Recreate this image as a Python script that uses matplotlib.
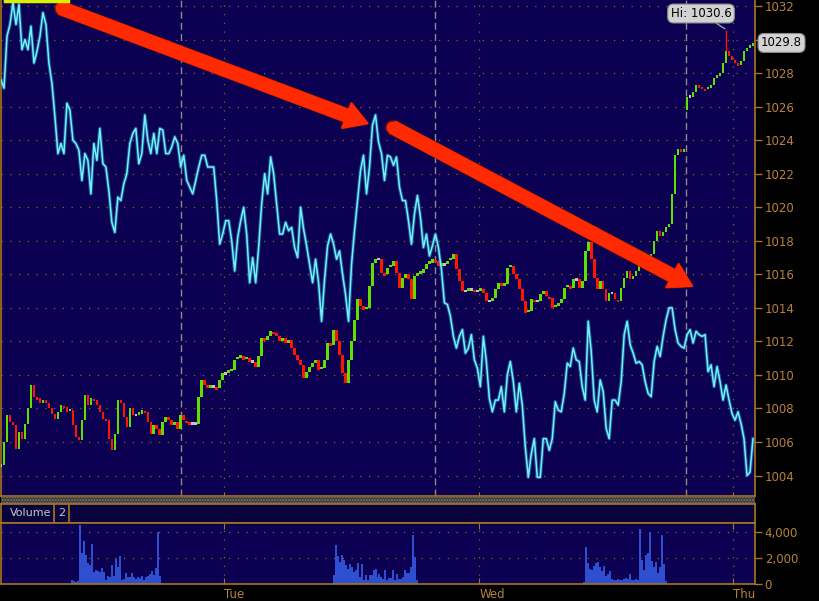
import matplotlib
matplotlib.use("Agg")
import matplotlib.pyplot as plt
import numpy as np
from matplotlib import patheffects as pe
from matplotlib.patches import FancyArrowPatch
from matplotlib.transforms import blended_transform_factory

# ---------------- data ----------------
closes = [
    1004.6, 1006.0, 1007.6, 1007.2, 1007.0, 1005.6, 1006.6, 1006.2, 1007.1, 1008.0,
    1009.4, 1008.7, 1008.6, 1008.3, 1008.5, 1008.3, 1008.0, 1007.7, 1007.4, 1007.8,
    1008.2, 1008.1, 1007.8, 1007.9, 1007.0, 1006.3, 1006.1, 1007.3, 1008.8, 1008.2,
    1008.6, 1008.5, 1008.2, 1007.8, 1007.4, 1007.3, 1006.2, 1005.5, 1006.5, 1008.5,
    1008.3, 1007.5, 1006.9, 1008.0, 1007.6, 1007.6, 1007.7, 1007.9, 1007.8, 1007.2,
    1006.5, 1007.0, 1006.8, 1006.4, 1007.2, 1007.5, 1007.3, 1007.0, 1007.2, 1006.8,
    1007.6, 1007.3, 1007.2, 1007.1,
    1007.1, 1007.1, 1008.7, 1009.7, 1009.4, 1009.2, 1009.3, 1009.3, 1009.2, 1009.7,
    1010.1, 1010.1, 1010.2, 1010.3, 1010.9, 1011.0, 1011.1, 1010.9, 1011.0, 1010.8,
    1010.8, 1010.5, 1011.1, 1012.2, 1012.1, 1012.3, 1012.6, 1012.5, 1012.3, 1012.0,
    1012.2, 1011.9, 1012.1, 1011.6, 1011.2, 1010.9, 1010.6, 1009.8, 1010.2, 1010.5,
    1010.7, 1010.9, 1010.3, 1010.4, 1010.9, 1011.9, 1011.8, 1012.7, 1012.0, 1011.2,
    1010.1, 1009.5, 1010.9, 1012.0, 1013.3, 1014.5, 1014.1, 1013.9, 1014.0, 1015.3,
    1016.7, 1016.9, 1016.9,
    1016.1, 1016.0, 1016.4, 1016.5, 1016.8, 1016.1, 1015.2, 1015.8, 1016.0, 1015.7,
    1014.5, 1015.9, 1016.0, 1016.1, 1016.3, 1016.6, 1016.7, 1016.9, 1016.8, 1016.5,
    1016.6, 1016.6, 1016.8, 1016.9, 1017.2, 1016.3, 1015.6, 1015.0, 1015.0, 1015.1,
    1015.1, 1015.0, 1015.0, 1015.1, 1014.9, 1014.4, 1014.4, 1014.6, 1015.1, 1015.5,
    1015.3, 1015.4, 1016.4, 1016.5, 1016.0, 1015.7, 1015.1, 1014.4, 1013.7, 1013.8,
    1014.5, 1014.4, 1014.4, 1014.8, 1015.0, 1014.7, 1014.6, 1014.0, 1014.1, 1014.3,
    1014.5, 1015.2,
    1015.3, 1015.2, 1015.7, 1015.7, 1015.2, 1015.6, 1017.4, 1017.9, 1016.9, 1015.8,
    1015.1, 1015.6, 1015.1, 1014.4, 1014.9, 1014.9, 1014.5, 1014.4, 1015.2, 1015.8,
    1016.2, 1015.7, 1015.9, 1016.2, 1017.4, 1017.3, 1016.4, 1016.6, 1017.2, 1018.0,
    1018.6, 1018.3, 1018.5, 1018.8, 1019.0, 1020.8, 1023.1, 1023.5, 1023.3, 1023.5,
    1026.6, 1026.6, 1026.9, 1027.3, 1027.2, 1027.1, 1027.0, 1027.1, 1027.3, 1027.7,
    1027.8, 1028.0, 1028.6, 1029.3, 1029.0, 1028.8, 1028.6, 1028.5, 1028.7, 1029.3,
    1029.5, 1029.6, 1029.7,
]

cyan = [
    1027.6, 1027.1, 1030.2, 1030.9, 1032.2, 1030.9, 1032.1, 1029.4, 1030.0, 1029.4,
    1030.8, 1028.6, 1029.3, 1030.2, 1031.6, 1030.9, 1028.6, 1027.4, 1025.4, 1023.2,
    1023.8, 1023.2, 1026.2, 1025.8, 1024.0, 1023.8, 1023.4, 1021.6, 1023.2, 1022.8,
    1020.8, 1023.8, 1022.8, 1024.7, 1022.6, 1022.4, 1021.0, 1019.1, 1018.5, 1020.6,
    1020.4, 1021.4, 1022.0, 1023.8, 1024.4, 1024.7, 1022.6, 1023.2, 1025.5, 1024.0,
    1023.2, 1024.4, 1023.2, 1024.7, 1024.6, 1023.2, 1023.2, 1023.6, 1024.2, 1023.8,
    1022.4, 1023.1, 1021.6, 1021.2,
    1020.8, 1021.6, 1022.4, 1023.1, 1023.1, 1022.4, 1022.4, 1022.4, 1020.4, 1017.8,
    1018.4, 1019.2, 1019.2, 1018.0, 1016.2, 1018.2, 1019.2, 1020.0, 1018.4, 1015.5,
    1017.0, 1015.5, 1017.6, 1020.2, 1022.0, 1020.8, 1023.0, 1022.0, 1020.2, 1018.4,
    1018.4, 1019.1, 1018.6, 1018.8, 1017.6, 1017.0, 1020.0, 1018.7, 1017.7, 1016.6,
    1015.5, 1016.9, 1015.5, 1013.2, 1015.7, 1017.7, 1018.4, 1017.8, 1016.9, 1017.4,
    1016.0, 1014.8, 1013.2, 1016.6, 1018.6, 1020.4, 1022.2, 1023.1, 1020.8, 1022.4,
    1024.9, 1025.5, 1023.9,
    1023.2, 1021.6, 1023.1, 1023.0, 1022.5, 1023.0, 1021.2, 1020.4, 1020.4, 1019.2,
    1017.8, 1019.6, 1020.7, 1019.4, 1017.6, 1018.4, 1017.1, 1017.7, 1018.4, 1017.6,
    1016.3, 1014.3, 1014.2, 1013.5, 1012.3, 1011.6, 1012.3, 1012.7, 1011.3, 1011.6,
    1012.4, 1010.9, 1010.4, 1009.3, 1012.3, 1010.8, 1008.6, 1007.8, 1008.5, 1008.5,
    1009.3, 1007.8, 1010.0, 1010.8, 1009.6, 1007.8, 1009.5, 1008.2, 1005.7, 1003.9,
    1005.3, 1006.2, 1003.9, 1003.9, 1006.2, 1006.2, 1005.5, 1006.2, 1008.4, 1007.9,
    1007.8, 1008.9,
    1010.7, 1010.5, 1011.6, 1010.9, 1010.8, 1009.3, 1008.5, 1013.2, 1011.4, 1008.5,
    1007.8, 1009.7, 1009.0, 1006.8, 1006.2, 1008.5, 1008.5, 1008.2, 1009.6, 1012.4,
    1013.2, 1011.8, 1011.3, 1010.7, 1010.8, 1010.6, 1009.6, 1008.9, 1008.7, 1010.8,
    1011.7, 1011.1, 1012.3, 1013.3, 1014.0, 1014.0, 1012.7, 1011.9, 1011.7, 1011.6,
    1012.4, 1012.7, 1011.9, 1012.6, 1012.4, 1012.3, 1012.4, 1010.2, 1010.6, 1009.3,
    1010.5, 1009.6, 1008.5, 1009.4, 1008.5, 1007.7, 1007.3, 1007.8, 1007.1, 1006.2,
    1004.0, 1004.2, 1006.2,
]

gap_index = 229
gap_open = 1025.8
hi_index = 242
hi_value = 1030.6
last_price = 1029.8

vol_session1 = [330, 250, 150, 200, 4540, 2400, 3280, 2220, 1650, 1450,
                3070, 930, 1050, 1000, 930, 1200, 930, 335, 600, 500,
                1450, 650, 1960, 1270, 2140, 340, 420, 850, 540, 500,
                850, 550, 420, 500, 490, 600, 330, 500, 600, 800,
                1000, 700, 1200, 3970, 600, 100]
vol_session2 = [670, 2990, 2140, 1700, 2220, 1880, 1440, 1150, 1570, 1300,
                930, 1060, 1625, 540, 1570, 330, 700, 280, 700, 670,
                1100, 1190, 500, 800, 570, 410, 1050, 340, 450, 490,
                1100, 280, 750, 410, 350, 540, 1100, 850, 850, 1320,
                3770, 2090, 300]
vol_session3 = [150, 2810, 1600, 1150, 1100, 1420, 1600, 1700, 1300, 1000,
                1420, 600, 800, 1000, 400, 330, 280, 400, 280, 330,
                420, 450, 420, 800, 330, 330, 400, 280, 4230, 1880,
                1100, 2220, 2400, 3970, 1800, 1300, 1700, 850, 1300, 3770,
                1500, 250]
vol_starts = [70, 332, 583]

session_opens = [180, 435, 686]
day_ticks = [223, 479, 733]
day_labels = ["Tue", "Wed", "Thu"]
price_ticks = list(range(1004, 1033, 2))
vol_ticks = [0, 2000, 4000]
vol_tick_labels = ["0", "2,000", "4,000"]

arrow1 = ((60, 1031.88), (367, 1025.0))
arrow2 = ((392, 1024.78), (692, 1015.3))

BAR_STEP = 3
VOL_STEP = 2
T_MAX = 755

# ---------------- styling ----------------
BG = "#0b0052"
ORANGE = "#a8741e"
LABEL = "#b8823a"
GRID = "#8a6420"
ARROW = "#ff2a00"
ARROW_EDGE = "#8a1500"

fig = plt.figure(figsize=(8.19, 6.01), dpi=100, facecolor="black")
W, H = 819.0, 601.0
ax = fig.add_axes([1 / W, 105 / H, 754 / W, 496 / H], facecolor=BG)
sep = fig.add_axes([1 / W, 97 / H, 754 / W, 7 / H], facecolor="#3c3c3c")
hdr = fig.add_axes([1 / W, 78 / H, 754 / W, 19 / H], facecolor="#08033c")
vax = fig.add_axes([1 / W, 17 / H, 754 / W, 61 / H], facecolor=BG)

# ---------------- main panel ----------------
t = np.arange(len(closes)) * BAR_STEP
closes_a = np.array(closes)
opens_a = np.concatenate([[closes[0]], closes_a[:-1]])
opens_a[gap_index] = gap_open
diff = closes_a - opens_a
cols = np.where(diff > 0.05, "#5ee000", np.where(diff < -0.05, "#ff1500", "#c4c4c4"))
heights = np.where(np.abs(diff) < 0.15, 0.15, np.abs(diff))
bottoms = np.minimum(opens_a, closes_a)
bottoms = np.where(np.abs(diff) < 0.15, closes_a - 0.075, bottoms)

ax.set_xlim(0, T_MAX)
ax.set_ylim(1002.78, 1032.36)

for p in price_ticks:
    ax.axhline(p, color=GRID, lw=0.9, dashes=(1, 6), zorder=1)
for d in day_ticks:
    ax.axvline(d, color=GRID, lw=0.9, dashes=(1, 6), zorder=1)
for s in session_opens:
    ax.axvline(s, color="#8c8c8c", lw=1.0, dashes=(5, 3), zorder=1)

ax.bar(t, heights, bottom=bottoms, width=2.6, color=cols, linewidth=0, zorder=3)
ax.vlines(t[hi_index], closes[hi_index], hi_value, color="#ff1500", lw=1, zorder=3)

tc = np.arange(len(cyan)) * BAR_STEP
ax.plot(tc, cyan, color="#2a9fc8", lw=2.6, alpha=0.5, zorder=4)
ax.plot(tc, cyan, color="#72f2ff", lw=1.1, zorder=5)

# arrows (filled polygon with rounded tail)
for (start, end) in (arrow1, arrow2):
    ax.plot([start[0]], [start[1]], marker="o", ms=9.2, color=ARROW, mec=ARROW_EDGE,
            mew=1.0, zorder=5.8)
    arr = FancyArrowPatch(posA=start, posB=end,
                          arrowstyle="simple,head_length=16,head_width=19,tail_width=9",
                          mutation_scale=1, color=ARROW, shrinkA=0, shrinkB=0, zorder=6)
    arr.set_path_effects([pe.withStroke(linewidth=2.0, foreground=ARROW_EDGE), pe.Normal()])
    ax.add_patch(arr)
    ax.plot([start[0]], [start[1]], marker="o", ms=8.0, color=ARROW, mew=0, zorder=6.5)

# yellow marker at top-left
trans = blended_transform_factory(ax.transData, ax.transAxes)
ax.plot([4, 67], [0.998, 0.998], transform=trans, color="#d8f000", lw=2.5, zorder=7, clip_on=False)

# labels
ax.annotate("Hi: 1030.6", xy=(t[hi_index], hi_value), xytext=(-25, 16),
            textcoords="offset pixels", ha="center", va="center", fontsize=8.5, color="black",
            bbox=dict(boxstyle="round,pad=0.25,rounding_size=0.5", fc="#d2d2d2", ec="#8a8a8a", lw=0.8),
            arrowprops=dict(arrowstyle="-", color="#a0a0a0", lw=1.0, shrinkA=0, shrinkB=1),
            zorder=8)
trans_r = blended_transform_factory(ax.transAxes, ax.transData)
ax.text(1.008, last_price, f"{last_price:.1f}", transform=trans_r, ha="left", va="center",
        fontsize=8.5, color="black", zorder=10, clip_on=False,
        bbox=dict(boxstyle="round,pad=0.25,rounding_size=0.5", fc="#d4d4d4", ec="#8a8a8a", lw=0.8))

ax.yaxis.tick_right()
ax.set_yticks(price_ticks)
# the last-price box hides the tick label it sits on
ax.set_yticklabels(["" if abs(p - last_price) < 1.0 else str(p) for p in price_ticks])
ax.tick_params(axis="y", colors=ORANGE, labelcolor=LABEL, length=5, width=1, direction="out",
               labelsize=8.5, pad=2)
ax.set_xticks(session_opens + day_ticks)
ax.set_xticklabels([])
ax.tick_params(axis="x", colors=ORANGE, length=3, direction="in")
for sp in ("left", "right", "bottom"):
    ax.spines[sp].set_color(ORANGE)
    ax.spines[sp].set_linewidth(1.2)
ax.spines["top"].set_visible(False)

# separator
sep.set_xticks([]); sep.set_yticks([])
for sp in sep.spines.values():
    sp.set_visible(False)
sep.add_patch(plt.Rectangle((0, 0), 1, 1, transform=sep.transAxes, fill=False,
                            hatch="......", ec="#7a7a7a", lw=0))

# header
hdr.set_xlim(0, T_MAX); hdr.set_ylim(0, 1)
hdr.set_xticks([]); hdr.set_yticks([])
for sp in hdr.spines.values():
    sp.set_color(ORANGE); sp.set_linewidth(1.2)
hdr.axvline(53, color=ORANGE, lw=1.2)
hdr.axvline(68, color=ORANGE, lw=1.2)
hdr.text(9, 0.5, "Volume", color="#c8c8c8", fontsize=8, va="center", ha="left")
hdr.text(57, 0.5, "2", color="#c8c8c8", fontsize=8, va="center", ha="left")

# ---------------- volume panel ----------------
vax.set_xlim(0, T_MAX)
vax.set_ylim(0, 4690)
for v in vol_ticks[1:]:
    vax.axhline(v, color=GRID, lw=0.9, dashes=(1, 6), zorder=1)
for d in day_ticks:
    vax.axvline(d, color=GRID, lw=0.9, dashes=(1, 6), zorder=1)
for start, vols in zip(vol_starts, (vol_session1, vol_session2, vol_session3)):
    tv = start + np.arange(len(vols)) * VOL_STEP
    vax.bar(tv, vols, width=VOL_STEP, color="#2e50d0", linewidth=0, align="edge", zorder=2)

vax.yaxis.tick_right()
vax.set_yticks(vol_ticks)
vax.set_yticklabels(vol_tick_labels)
vax.tick_params(axis="y", colors=ORANGE, labelcolor=LABEL, length=5, width=1, direction="out",
                labelsize=8.5, pad=2)
vax.set_xticks(day_ticks)
vax.set_xticklabels(day_labels, ha="left")
vax.tick_params(axis="x", colors=ORANGE, labelcolor=LABEL, length=4, direction="in",
                labelsize=8.5, pad=3, top=True)
for sp in vax.spines.values():
    sp.set_color(ORANGE); sp.set_linewidth(1.2)

fig.savefig("out.png", dpi=100, facecolor="black")
